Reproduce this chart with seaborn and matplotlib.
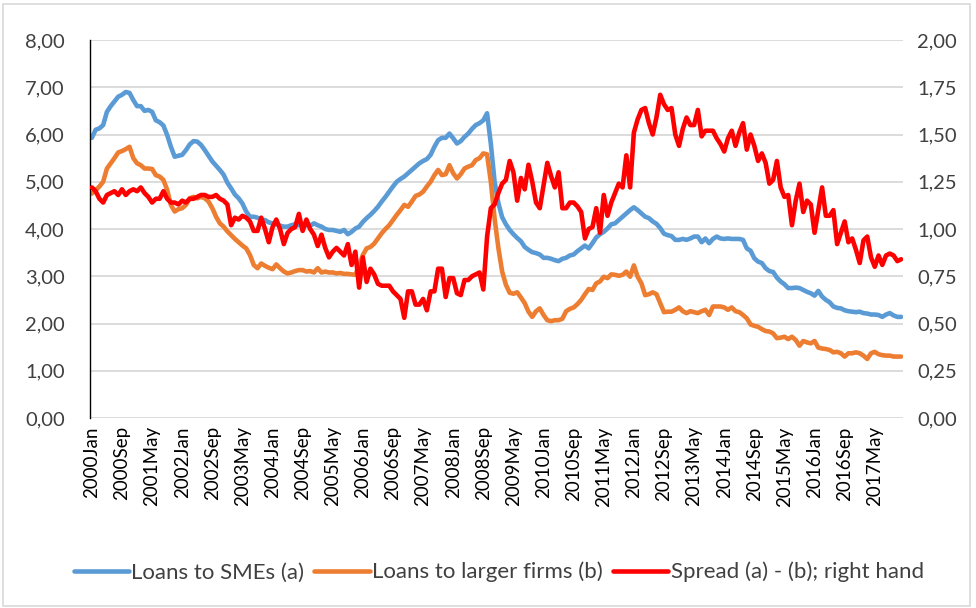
import pandas as pd
import matplotlib.pyplot as plt
import seaborn as sns
from matplotlib.patches import Rectangle


# ============================================
# STEP 1: DATA (monthly, 2000Jan - 2017Dec)
# ============================================

years = list(range(2000, 2018))

month_names = [
    "Jan", "Feb", "Mar", "Apr", "May", "Jun",
    "Jul", "Aug", "Sep", "Oct", "Nov", "Dec"
]

tick_labels = [
    "2000Jan", "2000Sep", "2001May", "2002Jan", "2002Sep", "2003May",
    "2004Jan", "2004Sep", "2005May", "2006Jan", "2006Sep", "2007May",
    "2008Jan", "2008Sep", "2009May", "2010Jan", "2010Sep", "2011May",
    "2012Jan", "2012Sep", "2013May", "2014Jan", "2014Sep", "2015May",
    "2016Jan", "2016Sep", "2017May"
]

# Loans to SMEs (a), left axis
sme_rate = [
    5.93, 6.10, 6.13, 6.20, 6.48, 6.60, 6.70, 6.80, 6.84, 6.90, 6.88, 6.73,
    6.60, 6.60, 6.50, 6.52, 6.48, 6.30, 6.26, 6.19, 5.99, 5.74, 5.53, 5.55,
    5.57, 5.67, 5.79, 5.86, 5.85, 5.78, 5.67, 5.55, 5.43, 5.34, 5.25, 5.15,
    4.98, 4.86, 4.73, 4.65, 4.54, 4.37, 4.26, 4.26, 4.24, 4.19, 4.19, 4.14,
    4.12, 4.10, 4.07, 4.05, 4.05, 4.08, 4.10, 4.08, 4.10, 4.08, 4.07, 4.12,
    4.08, 4.05, 4.00, 3.98, 3.98, 3.96, 3.94, 3.98, 3.89, 3.94, 4.01, 4.05,
    4.15, 4.23, 4.30, 4.38, 4.47, 4.58, 4.68, 4.79, 4.90, 5.00, 5.06, 5.11,
    5.18, 5.25, 5.32, 5.39, 5.44, 5.48, 5.57, 5.74, 5.88, 5.93, 5.93, 6.02,
    5.92, 5.81, 5.86, 5.95, 6.02, 6.12, 6.20, 6.24, 6.30, 6.45, 5.80, 5.00,
    4.55, 4.25, 4.10, 3.98, 3.89, 3.81, 3.74, 3.62, 3.56, 3.51, 3.49, 3.46,
    3.39, 3.39, 3.37, 3.34, 3.32, 3.37, 3.39, 3.44, 3.46, 3.53, 3.59, 3.65,
    3.59, 3.70, 3.82, 3.89, 3.94, 4.01, 4.10, 4.12, 4.19, 4.26, 4.33, 4.40,
    4.46, 4.40, 4.33, 4.26, 4.23, 4.16, 4.11, 4.02, 3.90, 3.87, 3.85, 3.77,
    3.77, 3.79, 3.77, 3.80, 3.84, 3.84, 3.72, 3.80, 3.70, 3.79, 3.84, 3.80,
    3.79, 3.80, 3.79, 3.79, 3.79, 3.77, 3.59, 3.54, 3.38, 3.31, 3.28, 3.17,
    3.11, 3.09, 2.97, 2.89, 2.83, 2.75, 2.75, 2.76, 2.75, 2.71, 2.67, 2.64,
    2.59, 2.69, 2.57, 2.50, 2.45, 2.36, 2.33, 2.32, 2.28, 2.26, 2.25, 2.24,
    2.25, 2.22, 2.21, 2.19, 2.19, 2.18, 2.14, 2.19, 2.22, 2.17, 2.14, 2.14
]

# Loans to larger firms (b), left axis
large_rate = [
    4.75, 4.82, 4.90, 5.00, 5.28, 5.39, 5.50, 5.62, 5.65, 5.69, 5.74, 5.50,
    5.39, 5.35, 5.28, 5.28, 5.27, 5.14, 5.11, 5.04, 4.83, 4.51, 4.37, 4.42,
    4.44, 4.51, 4.65, 4.68, 4.65, 4.68, 4.65, 4.58, 4.44, 4.26, 4.12, 4.05,
    3.95, 3.87, 3.79, 3.72, 3.65, 3.59, 3.45, 3.24, 3.17, 3.27, 3.22, 3.18,
    3.15, 3.25, 3.17, 3.10, 3.06, 3.08, 3.11, 3.13, 3.13, 3.10, 3.11, 3.08,
    3.17, 3.08, 3.10, 3.08, 3.08, 3.06, 3.07, 3.05, 3.05, 3.04, 3.03, 3.22,
    3.45, 3.59, 3.62, 3.69, 3.80, 3.91, 4.00, 4.08, 4.19, 4.30, 4.40, 4.51,
    4.47, 4.58, 4.70, 4.73, 4.79, 4.90, 5.00, 5.14, 5.25, 5.14, 5.16, 5.35,
    5.18, 5.07, 5.16, 5.28, 5.32, 5.35, 5.46, 5.50, 5.60, 5.58, 5.00, 4.22,
    3.60, 3.10, 2.82, 2.65, 2.63, 2.66, 2.55, 2.43, 2.25, 2.14, 2.26, 2.32,
    2.18, 2.07, 2.05, 2.07, 2.07, 2.10, 2.26, 2.31, 2.34, 2.41, 2.50, 2.62,
    2.73, 2.71, 2.85, 2.89, 2.99, 2.96, 3.04, 3.03, 3.01, 3.03, 3.10, 2.99,
    3.23, 2.99, 2.85, 2.60, 2.62, 2.66, 2.62, 2.43, 2.24, 2.25, 2.25, 2.29,
    2.34, 2.26, 2.22, 2.26, 2.24, 2.22, 2.26, 2.29, 2.18, 2.36, 2.36, 2.36,
    2.34, 2.29, 2.34, 2.26, 2.24, 2.18, 2.11, 1.98, 1.95, 1.93, 1.88, 1.84,
    1.83, 1.79, 1.69, 1.70, 1.72, 1.67, 1.72, 1.65, 1.53, 1.63, 1.60, 1.58,
    1.63, 1.49, 1.47, 1.46, 1.44, 1.39, 1.40, 1.37, 1.30, 1.37, 1.37, 1.39,
    1.37, 1.32, 1.25, 1.37, 1.40, 1.35, 1.33, 1.32, 1.32, 1.30, 1.30, 1.30
]

# Spread (a) - (b), right axis
spread = [
    1.22, 1.20, 1.16, 1.14, 1.18, 1.19, 1.20, 1.18, 1.21, 1.18, 1.20, 1.21,
    1.20, 1.22, 1.19, 1.17, 1.14, 1.16, 1.16, 1.20, 1.16, 1.14, 1.14, 1.13,
    1.15, 1.14, 1.16, 1.16, 1.17, 1.18, 1.18, 1.17, 1.17, 1.18, 1.16, 1.15,
    1.13, 1.02, 1.06, 1.05, 1.07, 1.06, 1.04, 0.99, 0.99, 1.06, 1.00, 0.93,
    1.01, 1.05, 1.00, 0.92, 0.98, 1.00, 1.01, 1.08, 0.99, 1.05, 1.00, 0.97,
    0.91, 0.97, 0.90, 0.85, 0.88, 0.90, 0.88, 0.86, 0.92, 0.81, 0.88, 0.69,
    0.85, 0.72, 0.79, 0.76, 0.71, 0.70, 0.70, 0.70, 0.67, 0.65, 0.63, 0.53,
    0.67, 0.67, 0.60, 0.60, 0.63, 0.57, 0.67, 0.67, 0.79, 0.79, 0.64, 0.74,
    0.74, 0.66, 0.65, 0.73, 0.73, 0.75, 0.76, 0.77, 0.68, 0.96, 1.11, 1.13,
    1.19, 1.24, 1.26, 1.36, 1.30, 1.15, 1.27, 1.21, 1.34, 1.25, 1.14, 1.11,
    1.23, 1.35, 1.28, 1.22, 1.30, 1.11, 1.11, 1.14, 1.14, 1.12, 1.09, 0.95,
    1.00, 1.01, 1.11, 0.98, 1.18, 1.07, 1.14, 1.19, 1.24, 1.22, 1.39, 1.22,
    1.51, 1.58, 1.63, 1.64, 1.56, 1.50, 1.59, 1.71, 1.66, 1.63, 1.64, 1.50,
    1.44, 1.53, 1.59, 1.55, 1.55, 1.63, 1.49, 1.52, 1.52, 1.52, 1.48, 1.45,
    1.41, 1.48, 1.52, 1.44, 1.51, 1.56, 1.42, 1.50, 1.44, 1.36, 1.40, 1.35,
    1.24, 1.26, 1.36, 1.22, 1.17, 1.18, 1.02, 1.15, 1.24, 1.09, 1.15, 1.13,
    0.98, 1.10, 1.22, 1.07, 1.07, 1.10, 0.92, 0.98, 1.04, 0.93, 0.95, 0.89,
    0.82, 0.94, 0.96, 0.85, 0.80, 0.86, 0.81, 0.86, 0.87, 0.86, 0.83, 0.84
]


# ============================================
# STEP 2: BUILD DATAFRAME
# ============================================

periods = [
    f"{y}{m}" for y in years for m in month_names
]

df = pd.DataFrame({
    "Period": periods,
    "Idx": range(len(periods)),
    "SME": sme_rate,
    "Large": large_rate,
    "Spread": spread
})


# ============================================
# STEP 3: STYLE
# ============================================

sns.set_style("white")

plt.rcParams["font.family"] = ["Lato", "DejaVu Sans"]

blue = "#5B9BD5"
orange = "#ED7D31"
red = "#FF0000"
grid_color = "#D9D9D9"
text_color = "#404040"


# ============================================
# STEP 4: PLOT
# ============================================

fig = plt.figure(
    figsize=(9.76, 6.08),
    dpi=100
)

ax = fig.add_axes([0.0922, 0.3125, 0.8330, 0.6217])

sns.lineplot(
    data=df, x="Idx", y="SME", ax=ax,
    color=blue, linewidth=3.3, label="Loans to SMEs (a)", legend=False
)

sns.lineplot(
    data=df, x="Idx", y="Large", ax=ax,
    color=orange, linewidth=3.3, label="Loans to larger firms (b)", legend=False
)

ax2 = ax.twinx()

sns.lineplot(
    data=df, x="Idx", y="Spread", ax=ax2,
    color=red, linewidth=3.3, label="Spread (a) - (b); right hand", legend=False
)


# ============================================
# STEP 5: AXES FORMAT
# ============================================

ax.set_xlim(-0.5, len(df) - 0.5)
ax.set_ylim(0, 8)
ax2.set_ylim(0, 2)

ax.set_yticks(range(0, 9))
ax.set_yticklabels(
    [f"{v:.2f}".replace(".", ",") for v in range(0, 9)]
)

right_ticks = [i * 0.25 for i in range(9)]
ax2.set_yticks(right_ticks)
ax2.set_yticklabels(
    [f"{v:.2f}".replace(".", ",") for v in right_ticks]
)

tick_pos = df.loc[df["Period"].isin(tick_labels), "Idx"]
ax.set_xticks(tick_pos)
ax.set_xticklabels(tick_labels, rotation=90)

ax.set_xlabel("")
ax.set_ylabel("")
ax2.set_ylabel("")

ax.yaxis.grid(True, color=grid_color, linewidth=1.3)
ax.set_axisbelow(True)

for side in ["top", "right", "bottom"]:
    ax.spines[side].set_visible(False)
    ax2.spines[side].set_visible(False)
ax2.spines["left"].set_visible(False)

ax.spines["left"].set_color("black")
ax.spines["left"].set_linewidth(1.0)

ax.tick_params(axis="y", length=0, pad=18, labelsize=14.5)
ax2.tick_params(axis="y", length=0, pad=10, labelsize=14.5)
ax.tick_params(axis="x", length=0, pad=6, labelsize=13.5)

for lab in ax.get_xticklabels():
    lab.set_color("black")
for lab in ax.get_yticklabels() + ax2.get_yticklabels():
    lab.set_color(text_color)


# ============================================
# STEP 6: LEGEND + FRAME
# ============================================

h1, l1 = ax.get_legend_handles_labels()
h2, l2 = ax2.get_legend_handles_labels()

leg = fig.legend(
    h1 + h2, l1 + l2,
    loc="center",
    bbox_to_anchor=(0.511, 0.059),
    ncol=3,
    frameon=False,
    fontsize=16,
    handlelength=2.5,
    handletextpad=0.1,
    columnspacing=0.45
)

for t in leg.get_texts():
    t.set_color(text_color)

fig.patches.append(
    Rectangle(
        (0.003, 0.004), 0.991, 0.99,
        transform=fig.transFigure,
        fill=False, edgecolor=grid_color, linewidth=1.2
    )
)

plt.savefig("out.png", dpi=100)
